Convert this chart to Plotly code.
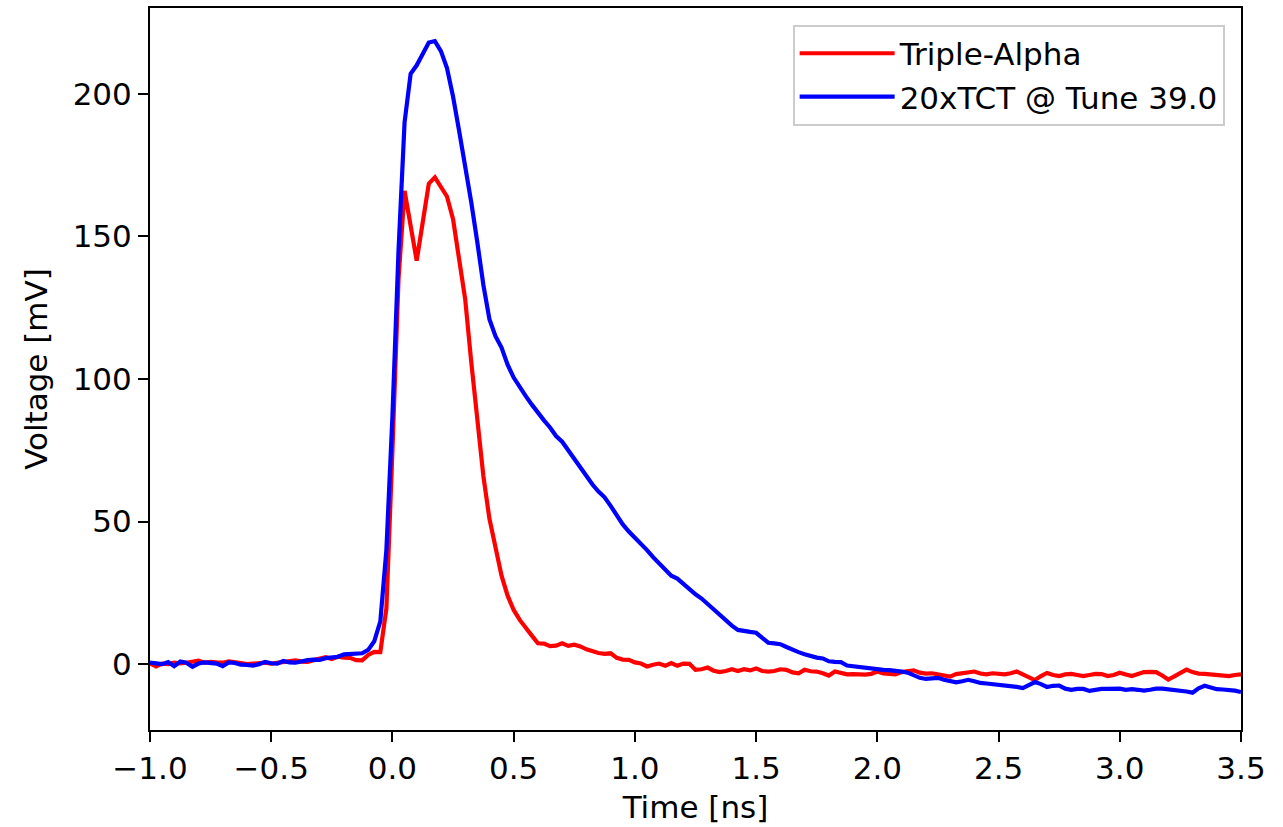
import numpy as np
import plotly.graph_objects as go

# Sampling grid: -1.0 ns to 3.5 ns in 25 ps steps (181 samples)
time_ns = np.round(np.linspace(-1.0, 3.5, 181), 3)

triple_alpha_mV = [
    0.3, -0.8, 0.2, 0.0, 0.5, 0.3, 0.5, 1.0, 1.2, 0.5,
    0.8, 0.6, 0.5, 1.0, 0.8, 0.4, 0.0, 0.2, 0.3, 0.5,
    0.2, 0.5, 0.7, 1.2, 1.3, 0.9, 0.8, 1.4, 1.8, 2.4,
    1.8, 2.6, 2.3, 2.2, 1.4, 1.3, 3.2, 4.3, 4.2, 19.5,
    75, 135, 166, 154, 141.5, 155, 168.5, 170.7, 167.5, 164,
    156, 143, 128, 106, 86, 66, 51, 41, 31, 24,
    19, 15.5, 12.5, 10, 7.3, 7.2, 6.3, 6.5, 7.3, 6.4,
    6.8, 6.2, 5.2, 4.5, 3.9, 3.6, 3.8, 2.2, 1.6, 1.5,
    0.6, 0.2, -0.8, -0.2, 0.2, -0.6, 0.4, -0.6, 0.2, 0.1,
    -2.0, -1.8, -1.2, -2.3, -2.8, -2.4, -1.8, -2.4, -1.8, -2.2,
    -1.5, -2.4, -2.6, -2.4, -1.8, -2.0, -2.9, -3.2, -2.0, -2.5,
    -2.6, -3.2, -4.0, -2.6, -3.0, -3.6, -3.5, -3.6, -3.7, -3.4,
    -2.6, -3.3, -3.4, -3.6, -2.8, -2.4, -2.2, -3.0, -3.3, -3.2,
    -3.6, -3.8, -4.4, -3.5, -3.3, -3.0, -2.6, -3.3, -3.6, -3.2,
    -3.4, -3.6, -3.2, -2.6, -3.6, -4.6, -5.6, -4.2, -3.1, -3.8,
    -4.2, -3.6, -3.4, -3.8, -4.2, -3.8, -3.4, -3.5, -4.2, -3.8,
    -3.0, -3.6, -4.2, -3.5, -2.8, -2.7, -2.8, -4.0, -5.4, -4.3,
    -3.0, -1.9, -2.8, -3.3, -3.4, -3.6, -3.7, -4.0, -4.2, -3.8,
    -3.6,
]

tct_mV = [
    0.5, 0.3, 0.0, 0.7, -0.7, 0.9, 0.5, -0.9, 0.2, 0.6,
    0.3, 0.2, -0.7, 0.6, 0.4, -0.2, -0.3, -0.5, 0.0, 0.8,
    0.3, 0.2, 1.1, 0.6, 0.5, 1.0, 1.4, 1.6, 1.5, 2.1,
    2.3, 2.6, 3.4, 3.5, 3.6, 3.8, 5.0, 8.0, 15, 40,
    87, 145, 190, 207, 210, 214, 218, 218.5, 215, 209,
    199, 187, 175, 162, 148, 133, 121, 115, 111, 105,
    100.5, 97, 94, 91, 88, 85.5, 83, 80, 78, 75,
    71.5, 69, 66, 63, 60.5, 58.5, 55.5, 52, 49, 46.5,
    44.5, 42.5, 40, 37.5, 35.5, 33, 31, 30, 28, 26,
    24.5, 23, 21, 19.5, 17.5, 15.5, 13.5, 12, 11.5, 11.3,
    11, 9, 7.5, 7.3, 7, 6, 5, 4.2, 3.5, 2.8,
    2.3, 2, 1, 0.8, 0.7, -0.5, -0.8, -1.0, -1.3, -1.5,
    -1.8, -2.0, -2.1, -2.2, -2.6, -3.0, -3.8, -4.8, -5.2, -5.0,
    -4.8, -5.5, -5.8, -6.4, -6.0, -5.5, -6.0, -6.6, -6.8, -7.0,
    -7.2, -7.3, -7.6, -8.0, -8.4, -7.5, -6.3, -7.0, -8.0, -7.6,
    -7.5, -8.6, -9.0, -8.7, -8.7, -9.4, -9.0, -8.7, -8.7, -8.6,
    -8.6, -9.0, -8.8, -9.0, -9.3, -9.0, -8.6, -8.6, -8.8, -9.0,
    -9.3, -9.6, -10.0, -8.5, -7.6, -8.2, -8.8, -8.9, -9.0, -9.3,
    -9.8,
]

series_names = ["Triple-Alpha", "20xTCT @ Tune 39.0"]
x_ticks = [-1.0, -0.5, 0.0, 0.5, 1.0, 1.5, 2.0, 2.5, 3.0, 3.5]
x_tick_labels = ["\u22121.0", "\u22120.5", "0.0", "0.5", "1.0", "1.5", "2.0", "2.5", "3.0", "3.5"]
y_ticks = [0, 50, 100, 150, 200]

FONT = "DejaVu Sans"
FS = 31

fig = go.Figure()
fig.add_trace(go.Scatter(x=time_ns, y=triple_alpha_mV, mode="lines",
                         name=series_names[0], line=dict(color="#ff0000", width=4.2)))
fig.add_trace(go.Scatter(x=time_ns, y=tct_mV, mode="lines",
                         name=series_names[1], line=dict(color="#0000ff", width=4.2)))

axis_common = dict(showgrid=False, zeroline=False, showline=True, linecolor="black",
                   linewidth=2, mirror=True, ticks="outside", ticklen=10, tickwidth=2,
                   tickcolor="black", tickfont=dict(family=FONT, size=FS, color="black"))

fig.update_layout(
    width=1283, height=827,
    margin=dict(l=150, r=42, t=6, b=97),
    paper_bgcolor="white", plot_bgcolor="white",
    font=dict(family=FONT, size=FS, color="black"),
    xaxis=dict(range=[-1.0, 3.5], tickvals=x_ticks, ticktext=x_tick_labels,
               title=dict(text="Time [ns]", font=dict(family=FONT, size=FS), standoff=11),
               **axis_common),
    yaxis=dict(range=[-23.1, 230.1], tickvals=y_ticks,
               title=dict(text="Voltage [mV]", font=dict(family=FONT, size=FS), standoff=16),
               **axis_common),
    legend=dict(x=0.985, y=0.977, xanchor="right", yanchor="top",
                bgcolor="rgba(255,255,255,0.8)", bordercolor="#cccccc", borderwidth=2,
                font=dict(family=FONT, size=FS, color="black"),
                tracegroupgap=0, itemwidth=95),
    showlegend=True,
)

fig.write_html("out.html", config={"displayModeBar": False},
               post_script="document.body.style.margin='0';document.body.style.overflow='hidden';")
